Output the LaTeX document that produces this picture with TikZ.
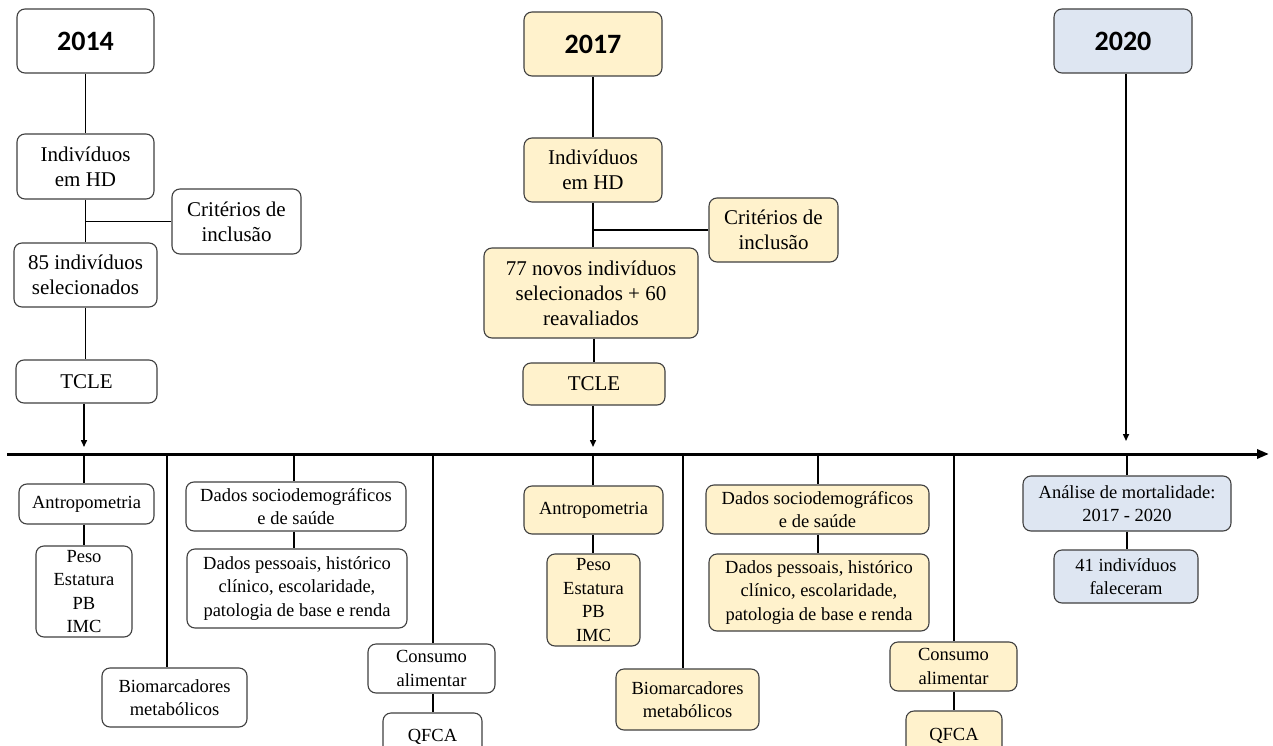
\documentclass[tikz,border=0pt]{standalone}
\usepackage{fontspec}
\setmainfont{Liberation Serif}
\newfontfamily\yearfont{Carlito}
\usetikzlibrary{arrows.meta}
\definecolor{beige}{HTML}{FFF2CC}
\definecolor{bluef}{HTML}{DEE6F2}
\definecolor{edgec}{HTML}{404040}
\begin{document}
\begin{tikzpicture}[x=1pt,y=-1pt,
  box/.style={draw=edgec, line width=1.1pt, rounded corners=8pt, align=center, inner sep=0pt, fill=white},
  yel/.style={fill=beige},
  blu/.style={fill=bluef},
  big/.style={font=\fontsize{21}{25}\selectfont},
  small/.style={font=\fontsize{18.5}{23.5}\selectfont},
  yr/.style={font=\yearfont\bfseries\fontsize{28}{30}\selectfont},
  thinline/.style={line width=1.5pt, black},
  midline/.style={line width=2pt, black},
  tick/.style={line width=2.6pt, black},
  axisline/.style={line width=3pt, black},
  smallarrow/.style={-{Triangle[length=7pt,width=6pt]}}
]
\clip (0,0) rectangle (1273,746);
\fill[white] (0,0) rectangle (1273,746);

% ---------- 2014 column ----------
\node[box,yr,minimum width=137pt,minimum height=64pt] (y14) at (85.5,41) {2014};
\node[box,big,minimum width=137pt,minimum height=65pt] (ind14) at (85.5,166.5) {Indivíduos\\em HD};
\node[box,big,minimum width=129pt,minimum height=65pt] (crit14) at (236.5,221.5) {Critérios de\\inclusão};
\node[box,big,minimum width=143pt,minimum height=64pt] (sel14) at (85.5,275) {85 indivíduos\\selecionados};
\node[box,big,minimum width=141pt,minimum height=43pt] (tcle14) at (86.5,381.5) {TCLE};

% ---------- 2017 column ----------
\node[box,yel,yr,minimum width=138pt,minimum height=64pt] (y17) at (593,44) {2017};
\node[box,yel,big,minimum width=138pt,minimum height=64pt] (ind17) at (593,170) {Indivíduos\\em HD};
\node[box,yel,big,minimum width=129pt,minimum height=64pt] (crit17) at (773.5,230) {Critérios de\\inclusão};
\node[box,yel,big,minimum width=214pt,minimum height=90pt] (sel17) at (591,293) {77 novos indivíduos\\selecionados + 60\\reavaliados};
\node[box,yel,big,minimum width=142pt,minimum height=42pt] (tcle17) at (594,384) {TCLE};

% ---------- 2020 ----------
\node[box,blu,yr,minimum width=138pt,minimum height=64pt] (y20) at (1123,41) {2020};
\node[box,blu,small,minimum width=208pt,minimum height=55pt] (ana) at (1127,503.5) {Análise de mortalidade:\\2017 - 2020};
\node[box,blu,small,minimum width=144pt,minimum height=53pt] (fal) at (1126,576.5) {41 indivíduos\\faleceram};

% ---------- lower 2014 ----------
\node[box,small,minimum width=135pt,minimum height=40pt] (antro14) at (86.5,504) {Antropometria};
\node[box,small,minimum width=96pt,minimum height=91pt] (peso14) at (84,591.5) {Peso\\Estatura\\PB\\IMC};
\node[box,small,minimum width=145pt,minimum height=59pt] (bio14) at (174.5,697.5) {Biomarcadores\\metabólicos};
\node[box,small,minimum width=220pt,minimum height=49pt] (soc14) at (296,506.5) {Dados sociodemográficos\\e de saúde};
\node[box,small,minimum width=220pt,minimum height=79pt] (pes14) at (297,588.5) {Dados pessoais, histórico\\clínico, escolaridade,\\patologia de base e renda};
\node[box,small,minimum width=127pt,minimum height=49pt] (con14) at (431.5,668.5) {Consumo\\alimentar};
\node[box,small,minimum width=99pt,minimum height=48pt] (qf14) at (432.5,737) {QFCA};

% ---------- lower 2017 ----------
\node[box,yel,small,minimum width=139pt,minimum height=48pt] (antro17) at (593.5,510) {Antropometria};
\node[box,yel,small,minimum width=93pt,minimum height=92pt] (peso17) at (593.5,600) {Peso\\Estatura\\PB\\IMC};
\node[box,yel,small,minimum width=143pt,minimum height=61pt] (bio17) at (687.5,699.5) {Biomarcadores\\metabólicos};
\node[box,yel,small,minimum width=223pt,minimum height=49pt] (soc17) at (817.5,509.5) {Dados sociodemográficos\\e de saúde};
\node[box,yel,small,minimum width=220pt,minimum height=77pt] (pes17) at (819,592.5) {Dados pessoais, histórico\\clínico, escolaridade,\\patologia de base e renda};
\node[box,yel,small,minimum width=127pt,minimum height=49pt] (con17) at (953.5,666.5) {Consumo\\alimentar};
\node[box,yel,small,minimum width=96pt,minimum height=49pt] (qf17) at (954,735.5) {QFCA};

% ---------- axis ----------
\coordinate (axL) at (7,454);
\coordinate (axR) at (1269,454);
\draw[axisline,-{Triangle[length=12pt,width=9pt]}] (axL) -- (axR);

% ---------- upper connectors ----------
\draw[thinline] (y14.south) -- (ind14.north);
\draw[thinline] (ind14.south) -- (sel14.north);
\draw[thinline] (crit14.west) -- (crit14.west -| ind14.south);
\draw[thinline] (sel14.south) -- (sel14.south |- tcle14.north);
\coordinate (ar14) at (84,447);
\draw[thinline,smallarrow] (tcle14.south -| ar14) -- (ar14);

\draw[thinline] (y17.south) -- (ind17.north);
\draw[thinline] (ind17.south) -- (sel17.north -| ind17.south);
\draw[thinline] (crit17.west) -- (crit17.west -| ind17.south);
\draw[thinline] (sel17.south -| tcle17.north) -- (tcle17.north);
\coordinate (ar17) at (593,447);
\draw[thinline,smallarrow] (tcle17.south -| ar17) -- (ar17);

\coordinate (ar20) at (1126,441);
\draw[thinline,smallarrow] (y20.south -| ar20) -- (ar20);

% ---------- ticks from axis ----------
\coordinate (t1) at (84,454);
\coordinate (t2) at (167,454);
\coordinate (t3) at (294,454);
\coordinate (t4) at (433,454);
\coordinate (t5) at (593,454);
\coordinate (t6) at (683,454);
\coordinate (t7) at (818,454);
\coordinate (t8) at (954,454);
\coordinate (t9) at (1127,454);
\draw[tick] (t1) -- (t1 |- antro14.north);
\draw[tick] (t2) -- (t2 |- bio14.north);
\draw[tick] (t3) -- (t3 |- soc14.north);
\draw[tick] (t4) -- (t4 |- con14.north);
\draw[tick] (t5) -- (t5 |- antro17.north);
\draw[tick] (t6) -- (t6 |- bio17.north);
\draw[tick] (t7) -- (t7 |- soc17.north);
\draw[tick] (t8) -- (t8 |- con17.north);
\draw[tick] (t9) -- (t9 |- ana.north);

% ---------- lower connectors ----------
\draw[midline] (antro14.south -| t1) -- (peso14.north -| t1);
\draw[midline] (soc14.south -| t3) -- (pes14.north -| t3);
\draw[midline] (con14.south -| t4) -- (qf14.north -| t4);
\draw[midline] (antro17.south -| t5) -- (peso17.north -| t5);
\draw[midline] (soc17.south -| t7) -- (pes17.north -| t7);
\draw[midline] (con17.south -| t8) -- (qf17.north -| t8);
\draw[midline] (ana.south -| t9) -- (fal.north -| t9);
\end{tikzpicture}
\end{document}
